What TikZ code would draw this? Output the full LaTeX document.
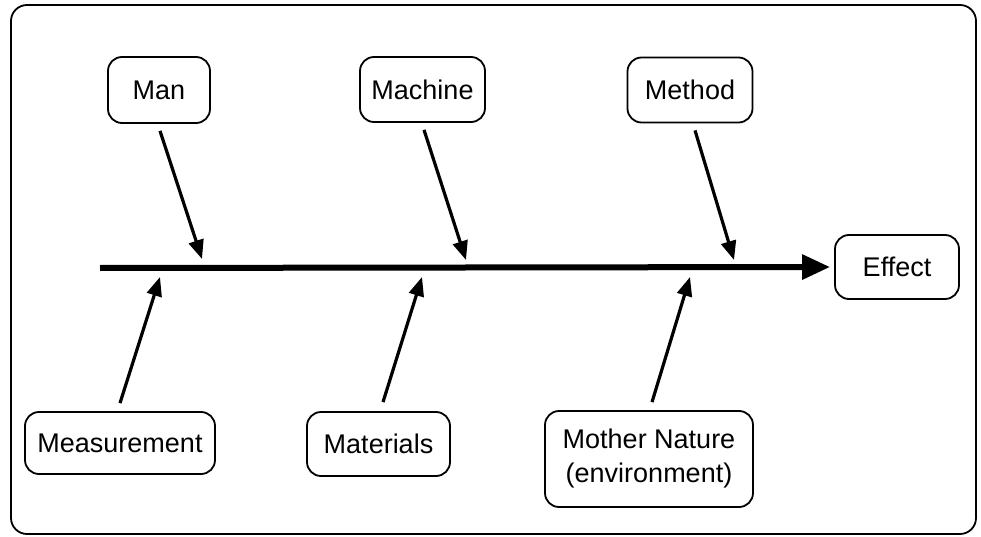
\documentclass[tikz,border=0pt]{standalone}
\usepackage{fontspec}
\setmainfont{Liberation Sans}
\usetikzlibrary{arrows.meta}
\begin{document}
\begin{tikzpicture}[x=1pt,y=-1pt,
  cat/.style={draw, line width=1.8pt, rounded corners=14pt, align=center,
    font=\fontsize{27}{34}\selectfont, inner sep=0pt},
  cause/.style={line width=3.2pt, -{Triangle[length=19pt,width=15pt]}},
  spine/.style={line width=6pt, -{Triangle[length=28pt,width=24pt]}},
  frame/.style={draw, line width=1.8pt, rounded corners=16pt}]
\useasboundingbox (0,0) rectangle (981,537);
% outer frame
\draw[frame] (11,5) rectangle (976,534);

% category boxes
\node[cat, minimum width=102, minimum height=66] (man) at (159,90) {Man};
\node[cat, minimum width=125, minimum height=65] (machine) at (422.5,89.5) {Machine};
\node[cat, minimum width=125, minimum height=65] (method) at (690,90) {Method};
\node[cat, minimum width=124, minimum height=64] (effect) at (897,267) {Effect};
\node[cat, minimum width=190, minimum height=62] (measure) at (120,443) {Measurement};
\node[cat, minimum width=143, minimum height=64] (materials) at (378.5,444) {Materials};
\node[cat, minimum width=208, minimum height=96] (nature) at (649,459) {Mother Nature\\(environment)};

% spine
\coordinate (s0) at (100,268);
\draw[spine] (s0) -- ([xshift=-4]effect.west);

% arrow tips on the spine
\coordinate (t1) at (202,259);
\coordinate (t2) at (466,260);
\coordinate (t3) at (734,260);
\coordinate (b1) at (160,277);
\coordinate (b2) at (422,277);
\coordinate (b3) at (690,277);

% cause arrows
\draw[cause] ([shift={(1,7)}]man.south) -- (t1);
\draw[cause] ([shift={(1.5,7)}]machine.south) -- (t2);
\draw[cause] ([shift={(5,7)}]method.south) -- (t3);
\draw[cause] ([shift={(0,-8)}]measure.north) -- (b1);
\draw[cause] ([shift={(4.5,-9)}]materials.north) -- (b2);
\draw[cause] ([shift={(3,-8)}]nature.north) -- (b3);
\end{tikzpicture}
\end{document}
